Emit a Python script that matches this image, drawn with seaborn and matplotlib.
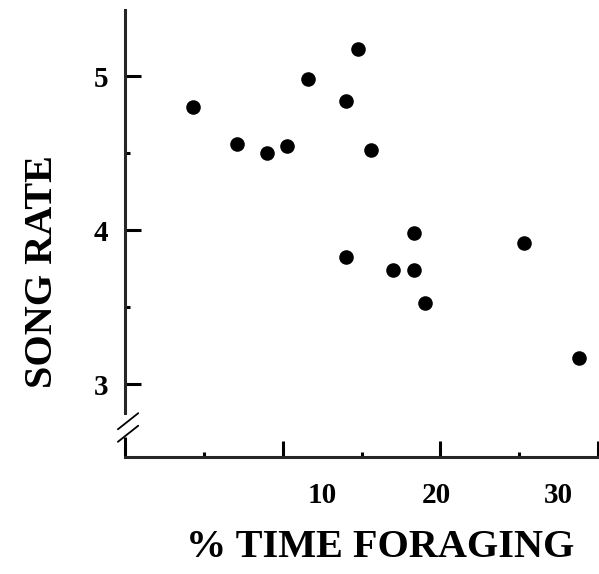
import numpy as np
import pandas as pd
import matplotlib
matplotlib.use("Agg")
import matplotlib.pyplot as plt
import matplotlib.transforms as mtransforms
import seaborn as sns

# Data
time_foraging = [4.3, 11.6, 14.8, 14.0, 7.1, 9.0, 10.3, 15.6, 18.3, 25.3, 14.0, 17.0, 18.3, 19.0, 28.8]
song_rate = [4.80, 4.98, 5.18, 4.84, 4.56, 4.50, 4.55, 4.52, 3.98, 3.92, 3.83, 3.74, 3.74, 3.53, 3.17]
x_ticks = [10, 20, 30]
x_tick_labels = ["10", "20", "30"]
y_ticks = [3, 4, 5]
y_tick_labels = ["3", "4", "5"]
x_label = "% TIME FORAGING"
y_label = "SONG RATE"

df = pd.DataFrame({"x": time_foraging, "y": song_rate})

sns.set_theme(style="ticks")
plt.rcParams["font.family"] = ["Liberation Serif", "DejaVu Serif"]
plt.rcParams["font.weight"] = "bold"

fig = plt.figure(figsize=(5.99, 5.74), dpi=100)
ax = fig.add_axes([125 / 599, 117 / 574, 473 / 599, 447 / 574])

sns.scatterplot(data=df, x="x", y="y", ax=ax, color="black", s=110,
                edgecolor="black", linewidth=0, legend=False)

ax.set_xlim(0, 30.0)
ax.set_ylim(2.528, 5.431)

lw = 2.2
for side in ["top", "right"]:
    ax.spines[side].set_visible(False)
ax.spines["bottom"].set_linewidth(lw)
ax.spines["left"].set_linewidth(lw)
ax.spines["left"].set_bounds(2.814, 5.431)

# axis break: lower spine segment and slash marks
ax.plot([0, 0], [2.528, 2.66], transform=ax.get_yaxis_transform(), color="black",
        lw=lw, clip_on=False, solid_capstyle="butt")
ax.plot([-0.015, 0.028], [0.062, 0.098], transform=ax.transAxes, color="black",
        lw=1.3, clip_on=False)
ax.plot([-0.015, 0.028], [0.034, 0.070], transform=ax.transAxes, color="black",
        lw=1.3, clip_on=False)

ax.set_xticks(x_ticks)
ax.set_xticklabels(x_tick_labels)
ax.set_xticks([5, 15, 25], minor=True)
ax.set_yticks(y_ticks)
ax.set_yticklabels(y_tick_labels)
ax.set_yticks([3.5, 4.5], minor=True)

ax.tick_params(axis="both", which="major", direction="in", length=11.5, width=lw,
               labelsize=21, color="black", labelcolor="black")
ax.tick_params(axis="both", which="minor", direction="in", length=3.5, width=lw,
               color="black")
ax.tick_params(axis="x", which="major", pad=18)
ax.tick_params(axis="y", which="major", pad=12)

for lab in ax.get_xticklabels() + ax.get_yticklabels():
    lab.set_fontweight("bold")

# shift x tick labels to where the reference prints them
offsets_px = [40, -4, -40]
for tick, dx in zip(ax.xaxis.get_major_ticks(), offsets_px):
    tick.label1.set_transform(tick.label1.get_transform() +
                              mtransforms.ScaledTranslation(dx / 100, 0, fig.dpi_scale_trans))

ax.set_xlabel(x_label, fontsize=29, fontweight="bold", color="black")
ax.set_ylabel(y_label, fontsize=29, fontweight="bold", color="black")
ax.xaxis.set_label_coords(0.539, -0.16)
ax.yaxis.set_label_coords(-0.135, 0.414)

fig.savefig("out.png", dpi=100, facecolor="white")
